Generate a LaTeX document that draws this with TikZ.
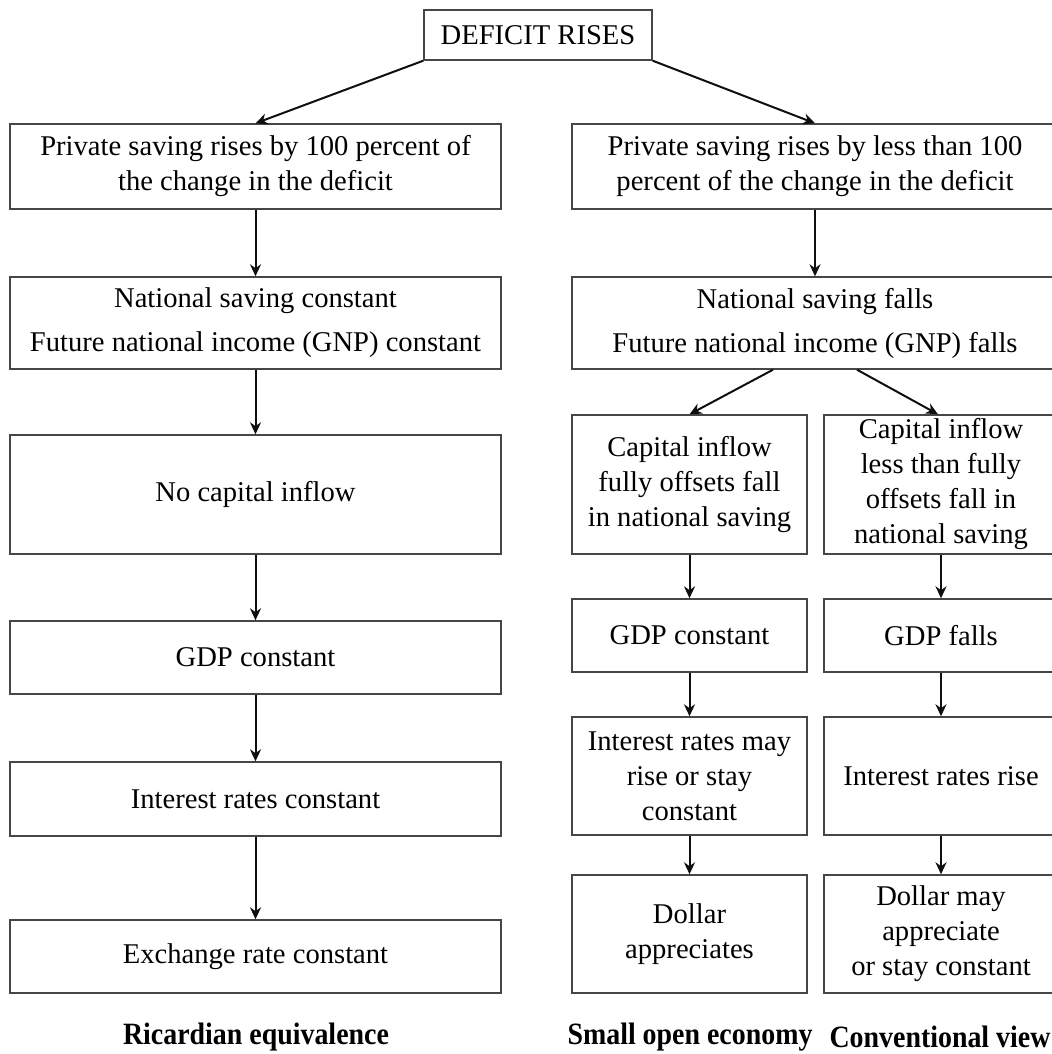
\documentclass[tikz,border=0pt]{standalone}
\usepackage{fontspec}
\setmainfont{Liberation Serif}
\newfontfamily\captionfont[FakeStretch=0.9]{Liberation Serif}
\usepackage{xcolor}
\usetikzlibrary{positioning, arrows.meta, calc}
\definecolor{BoxLine}{RGB}{70,70,70}
\definecolor{ArrowInk}{RGB}{15,15,15}

\begin{document}
\begin{tikzpicture}[
          x=0.5pt, y=-0.5pt,
          box/.style={draw=BoxLine, line width=0.7pt, rectangle, inner sep=0pt,
                      align=center, font=\fontsize{14.3}{17.5}\selectfont},
          flow/.style={-{Stealth[length=6pt, width=5.5pt]}, ArrowInk, line width=1pt},
          caption/.style={font=\captionfont\fontsize{15.5}{17}\selectfont\bfseries}
        ]
        \clip (0,0) rectangle (1052,1054);

        % Top
        \node[box, minimum width=114pt, minimum height=25pt] (deficit) at (538,35)
              {DEFICIT RISES};

        % Ricardian column
        \node[box, minimum width=245.5pt, minimum height=42.5pt] (ricSaving) at (255.5,166.5)
              {Private saving rises by 100 percent of\\the change in the deficit};
        \node[box, minimum width=245.5pt, minimum height=46pt] (ricNational) at (255.5,323)
              {National saving constant\\[4.5pt]Future national income (GNP) constant};
        \node[box, minimum width=245.5pt, minimum height=59.5pt] (ricInflow) at (255.5,494.5)
              {No capital inflow};
        \node[box, minimum width=245.5pt, minimum height=36.5pt] (ricGDP) at (255.5,657.5)
              {GDP constant};
        \node[box, minimum width=245.5pt, minimum height=37pt] (ricRates) at (255.5,799)
              {Interest rates constant};
        \node[box, minimum width=245.5pt, minimum height=36.5pt] (ricExchange) at (255.5,956.5)
              {Exchange rate constant};

        % Shared right column
        \node[box, minimum width=243pt, minimum height=42.5pt] (conSaving) at (815,166.5)
              {Private saving rises by less than 100\\percent of the change in the deficit};
        \node[box, minimum width=243pt, minimum height=46pt] (conNational) at (815,323)
              {National saving falls\\[4.5pt]Future national income (GNP) falls};

        % Small open economy column
        \node[box, minimum width=117.5pt, minimum height=69.5pt] (openInflow) at (689.5,484.5)
              {Capital inflow\\fully offsets fall\\in national saving};
        \node[box, minimum width=117.5pt, minimum height=36.5pt] (openGDP) at (689.5,635.5)
              {GDP constant};
        \node[box, minimum width=117.5pt, minimum height=59pt] (openRates) at (689.5,776)
              {Interest rates may\\rise or stay\\constant};
        \node[box, minimum width=117.5pt, minimum height=59pt] (openDollar) at (689.5,934)
              {Dollar\\appreciates};

        % Conventional view column
        \node[box, minimum width=117pt, minimum height=69.5pt] (convInflow) at (941,484.5)
              {Capital inflow\\less than fully\\offsets fall in\\national saving};
        \node[box, minimum width=117pt, minimum height=36.5pt] (convGDP) at (941,635.5)
              {GDP falls};
        \node[box, minimum width=117pt, minimum height=59pt] (convRates) at (941,776)
              {Interest rates rise};
        \node[box, minimum width=117pt, minimum height=59pt] (convDollar) at (941,934)
              {Dollar may\\appreciate\\or stay constant};

        % Captions
        \node[caption] (ricLabel) at (256,1037) {Ricardian equivalence};
        \node[caption] (openLabel) at (690,1037) {Small open economy};
        \node[caption] (convLabel) at (940,1037) {Conventional view};

        % Arrows
        \draw[flow] (deficit.south west) -- (ricSaving.north);
        \draw[flow] (deficit.south east) -- (conSaving.north);
        \foreach \a/\b in {ricSaving/ricNational, ricNational/ricInflow, ricInflow/ricGDP,
                           ricGDP/ricRates, ricRates/ricExchange, conSaving/conNational,
                           openInflow/openGDP, openGDP/openRates, openRates/openDollar,
                           convInflow/convGDP, convGDP/convRates, convRates/convDollar}{
          \draw[flow] (\a.south) -- (\b.north);
        }
        \draw[flow] ($(conNational.south)+(-42,0)$) -- (openInflow.north);
        \draw[flow] ($(conNational.south)+(42,0)$) -- ($(convInflow.north)+(-3,0)$);
      \end{tikzpicture}
\end{document}
